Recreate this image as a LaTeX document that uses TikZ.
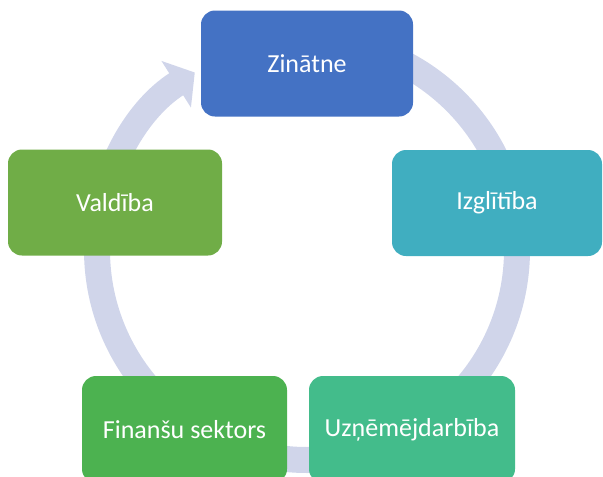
\documentclass[tikz,border=0pt]{standalone}
\usepackage{fontspec}
\setmainfont{Carlito}
\usepackage{xcolor}
\usetikzlibrary{arrows.meta}

\definecolor{ringcol}{RGB}{208,213,234}
\definecolor{zincol}{RGB}{68,114,196}
\definecolor{izgcol}{RGB}{64,174,192}
\definecolor{uzncol}{RGB}{67,188,139}
\definecolor{fincol}{RGB}{76,178,80}
\definecolor{valcol}{RGB}{112,173,71}

\begin{document}
\begin{tikzpicture}[x=1pt, y=-1pt,
    box/.style={rectangle, rounded corners=14pt, draw=none, text=white,
        minimum width=212pt, minimum height=106pt, inner sep=0pt,
        font=\fontsize{26}{30}\selectfont},
    ring/.style={line width=26pt, draw=ringcol,
        -{Triangle[length=22pt, width=54pt]}}]
    \useasboundingbox (0,0) rectangle (603,477);
    \clip (0,0) rectangle (603,477);

    % cycle ring behind the boxes
    \draw[ring] (307,40) arc[start angle=-90, end angle=237.7, radius=210];

    \node[box, fill=zincol] (Z) at (307,63.5) {Zinātne};
    \node[box, fill=izgcol, minimum width=210pt] (I) at (497,203) {Izglītība};
    \node[box, fill=uzncol, minimum width=206pt, minimum height=107pt] (U) at (412,429.5) {Uzņēmējdarbība};
    \node[box, fill=fincol, minimum width=205pt, minimum height=107pt] (F) at (184.5,429.5) {Finanšu sektors};
    \node[box, fill=valcol, minimum width=214pt] (V) at (115,202.5) {Valdība};
\end{tikzpicture}
\end{document}
